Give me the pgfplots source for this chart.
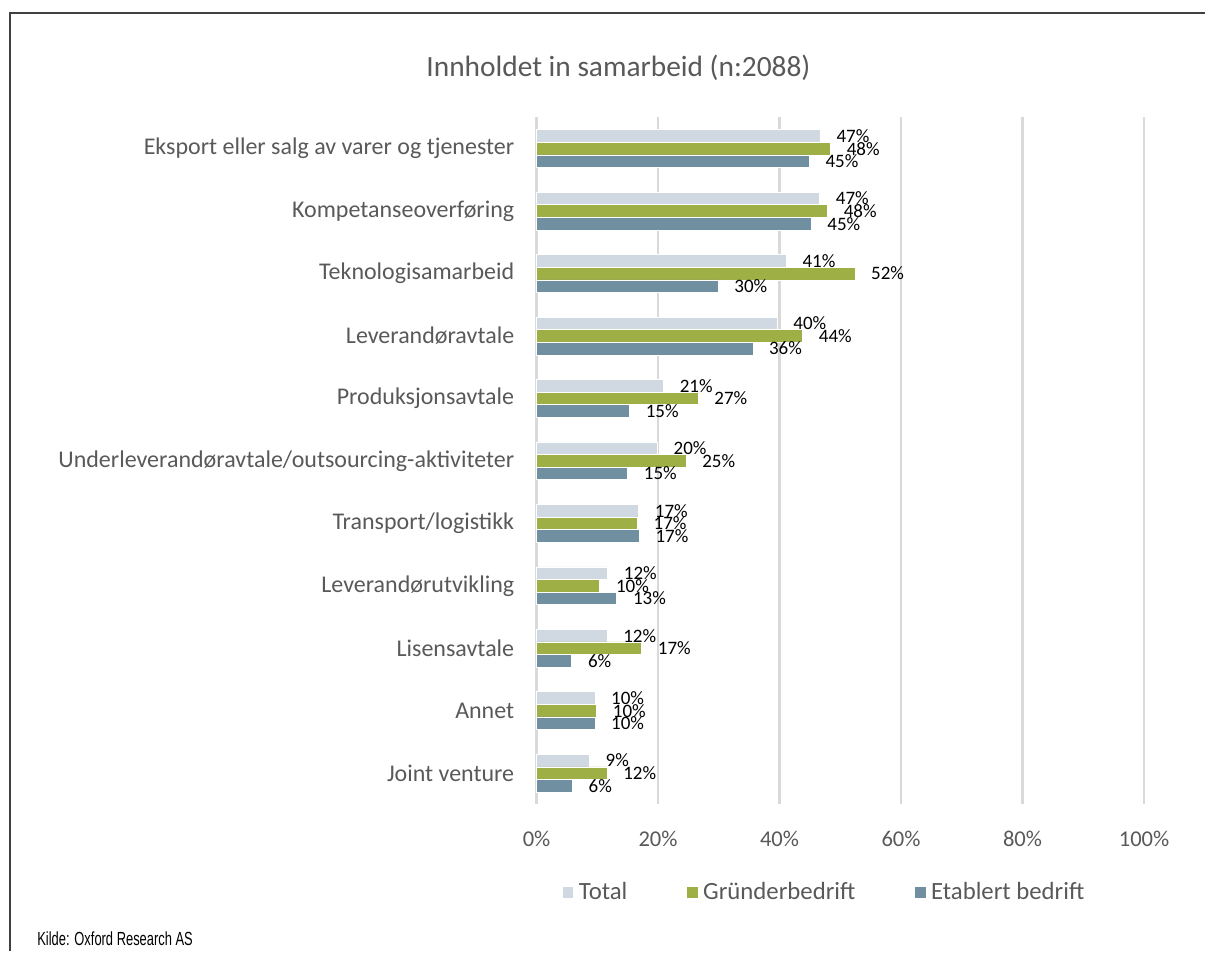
\documentclass[border=0pt]{standalone}
\usepackage{fontspec}
\setmainfont{Carlito}
\newfontfamily\narrowfont[FakeStretch=0.68]{Liberation Sans}
\usepackage{pgfplots}
\usepackage{pgfplotstable}
\pgfplotsset{compat=1.18}
\definecolor{totalgray}{HTML}{D0D9E1}
\definecolor{grolive}{HTML}{9EAF45}
\definecolor{etblue}{HTML}{7090A2}
\definecolor{txtgray}{HTML}{595959}
\definecolor{gridgray}{HTML}{D9D9D9}
\definecolor{framegray}{HTML}{404040}

% andel (%) per kategori, 0 = øverst
\pgfplotstableread{
idx total gruender etablert
0  46.7 48.4 44.9
1  46.6 47.9 45.2
2  41.1 52.4 29.9
3  39.6 43.8 35.6
4  20.9 26.6 15.3
5  19.9 24.6 15.0
6  16.8 16.6 16.9
7  11.7 10.4 13.2
8  11.6 17.3 5.8
9  9.6  9.9  9.6
10 8.7  11.6 5.9
}\samarbeid

\begin{document}
\begin{tikzpicture}
\path (0,0) rectangle (603pt,-476pt);
\draw[framegray, line width=1pt] (5pt,-476pt) -- (5pt,-6.5pt) -- (603pt,-6.5pt);
\node[text=txtgray, font=\fontsize{14.7}{17}\selectfont] at (309.5pt,-34pt) {Innholdet in samarbeid (n:2088)};
\node[anchor=base west, inner sep=0pt, font=\narrowfont\fontsize{9.5}{10}\selectfont] at (18.5pt,-473pt) {Kilde: Oxford Research AS};

\begin{axis}[
    at={(268.5pt,-402.5pt)}, anchor=south west,
    scale only axis,
    width=304pt, height=343.75pt,
    xbar=0pt,
    bar width=6.3pt,
    xmin=0, xmax=100,
    ymin=-0.5, ymax=10.5,
    y dir=reverse,
    clip=false,
    axis line style={draw=none},
    major tick length=0pt,
    xtick={0,20,...,100},
    xticklabel={\pgfmathprintnumber{\tick}\%},
    /pgf/number format/assume math mode=true,
    xmajorgrids,
    grid style={gridgray, line width=1.2pt},
    ytick=data,
    yticklabels={Eksport eller salg av varer og tjenester, Kompetanseoverføring, Teknologisamarbeid, Leverandøravtale, Produksjonsavtale, Underleverandøravtale/outsourcing-aktiviteter, Transport/logistikk, Leverandørutvikling, Lisensavtale, Annet, Joint venture},
    yticklabel style={text=txtgray, font=\fontsize{12}{14}\selectfont, inner sep=0pt, xshift=-11pt},
    xticklabel style={text=txtgray, font=\fontsize{11.3}{13}\selectfont, inner sep=0pt, yshift=-13pt},
    point meta=x,
    nodes near coords={\pgfmathprintnumber[fixed,precision=0]{\pgfplotspointmeta}\%},
    every node near coord/.append style={anchor=west, inner sep=0pt, xshift=8pt, text=black, font=\fontsize{9.5}{10}\selectfont},
    legend columns=3,
    legend cell align=left,
    legend style={at={(0.476,-0.128)}, anchor=center, draw=none, fill=none,
        text=txtgray, font=\fontsize{12.4}{14}\selectfont,
        nodes={inner xsep=2.5pt},
        /tikz/every even column/.append style={column sep=27pt},
        /tikz/every odd column/.append style={column sep=0pt}},
    legend image code/.code={\fill[#1] (0pt,-2.8pt) rectangle (5.6pt,2.8pt);},
]
\addplot[fill=totalgray, draw=white, line width=0.3pt, bar shift=6.3pt] table[x=total, y=idx] {\samarbeid};
\addlegendentry{Total}
\addplot[fill=grolive, draw=white, line width=0.3pt, bar shift=0pt] table[x=gruender, y=idx] {\samarbeid};
\addlegendentry{Gründerbedrift}
\addplot[fill=etblue, draw=white, line width=0.3pt, bar shift=-6.3pt] table[x=etablert, y=idx] {\samarbeid};
\addlegendentry{Etablert bedrift}
\end{axis}
\end{tikzpicture}
\end{document}
